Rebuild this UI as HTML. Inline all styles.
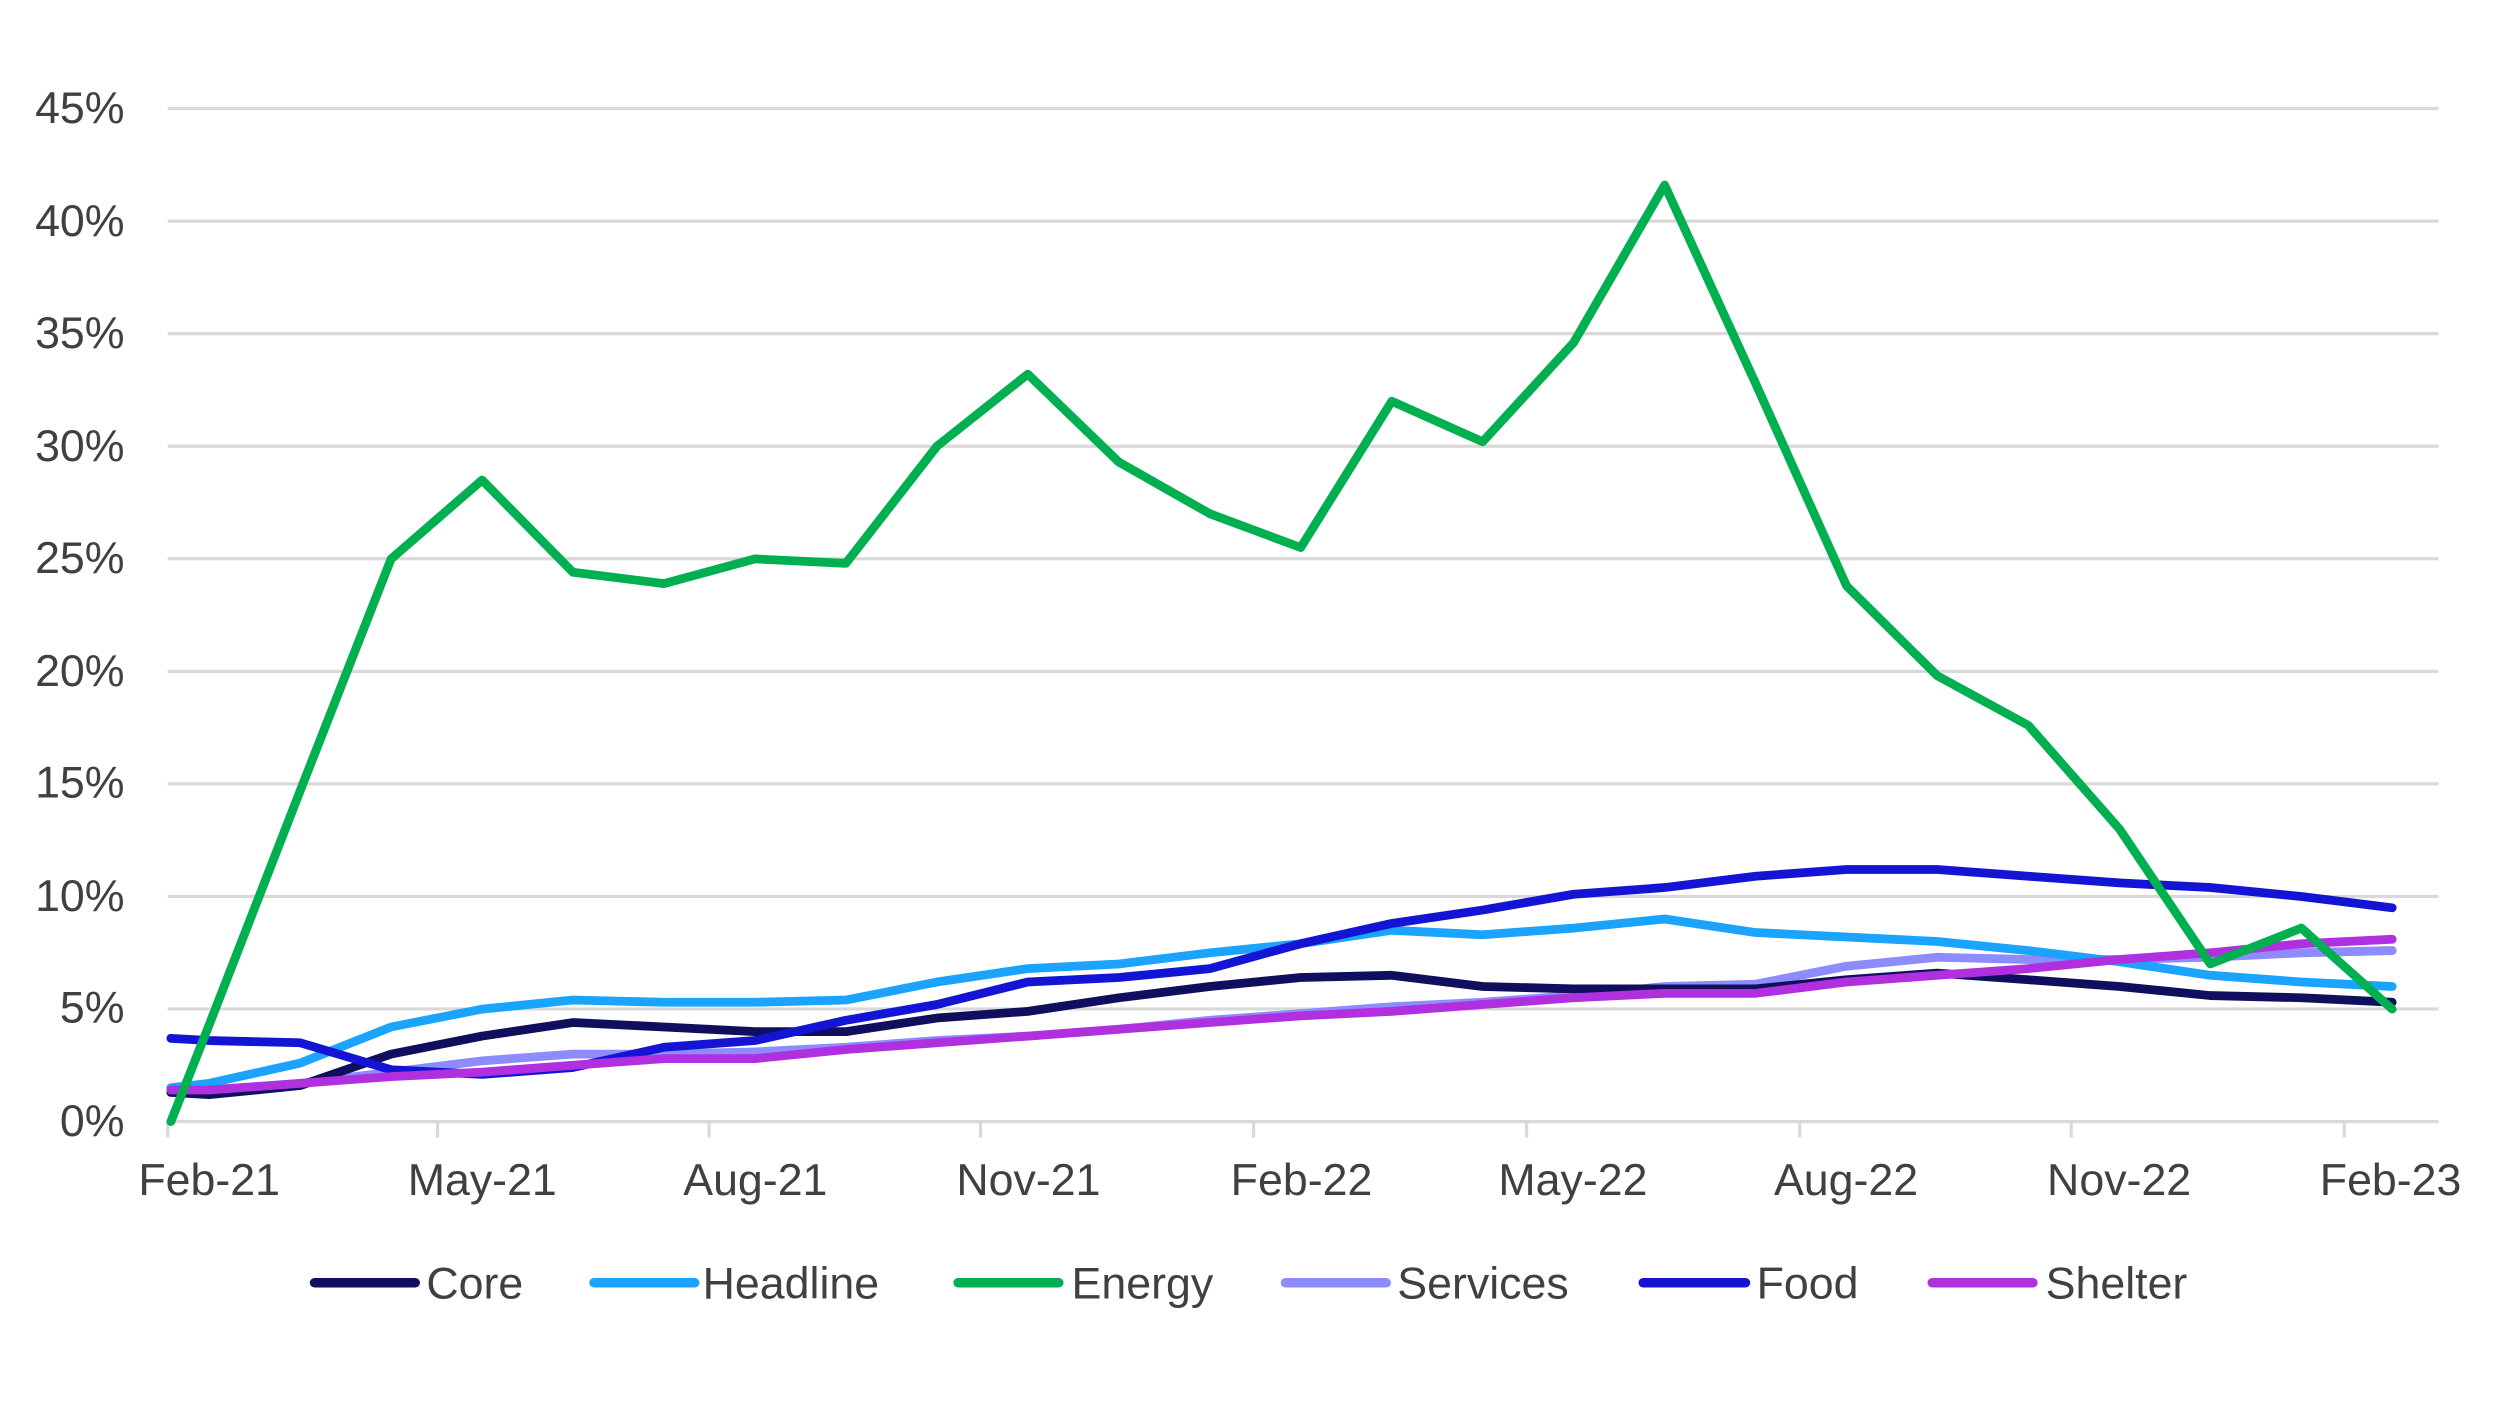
<!DOCTYPE html>
<html><head><meta charset="utf-8"><style>
html,body{margin:0;padding:0;background:#fff;}
svg{display:block;}
text{font-family:"Liberation Sans",sans-serif;fill:#404040;}
</style></head><body>
<svg width="2496" height="1404" viewBox="0 0 1563 880" preserveAspectRatio="none" xmlns="http://www.w3.org/2000/svg">
<g stroke="#d9d9d9" stroke-width="2">
<line x1="105" y1="68" x2="1527" y2="68"/>
<line x1="105" y1="138.6" x2="1527" y2="138.6"/>
<line x1="105" y1="209.1" x2="1527" y2="209.1"/>
<line x1="105" y1="279.7" x2="1527" y2="279.7"/>
<line x1="105" y1="350.2" x2="1527" y2="350.2"/>
<line x1="105" y1="420.8" x2="1527" y2="420.8"/>
<line x1="105" y1="491.3" x2="1527" y2="491.3"/>
<line x1="105" y1="561.9" x2="1527" y2="561.9"/>
<line x1="105" y1="632.4" x2="1527" y2="632.4"/>
<line x1="105" y1="703" x2="1527" y2="703"/>
<line x1="105" y1="703" x2="105" y2="713"/>
<line x1="274" y1="703" x2="274" y2="713"/>
<line x1="444" y1="703" x2="444" y2="713"/>
<line x1="614" y1="703" x2="614" y2="713"/>
<line x1="785" y1="703" x2="785" y2="713"/>
<line x1="956" y1="703" x2="956" y2="713"/>
<line x1="1127" y1="703" x2="1127" y2="713"/>
<line x1="1297" y1="703" x2="1297" y2="713"/>
<line x1="1468" y1="703" x2="1468" y2="713"/>
</g>
<g font-size="28" text-anchor="end">
<text x="78" y="77">45%</text>
<text x="78" y="148">40%</text>
<text x="78" y="218">35%</text>
<text x="78" y="289">30%</text>
<text x="78" y="359">25%</text>
<text x="78" y="430">20%</text>
<text x="78" y="500">15%</text>
<text x="78" y="571">10%</text>
<text x="78" y="641">5%</text>
<text x="78" y="712">0%</text>
</g>
<g font-size="28" text-anchor="middle">
<text x="131" y="749">Feb-21</text>
<text x="302" y="749">May-21</text>
<text x="473" y="749">Aug-21</text>
<text x="644" y="749">Nov-21</text>
<text x="815" y="749">Feb-22</text>
<text x="985" y="749">May-22</text>
<text x="1156" y="749">Aug-22</text>
<text x="1327" y="749">Nov-22</text>
<text x="1497" y="749">Feb-23</text>
</g>
<g id="series" fill="none" stroke-width="5.5" stroke-linejoin="round" stroke-linecap="round"></g>
<g stroke-width="6" stroke-linecap="round">
<line x1="197" y1="804" x2="260" y2="804" stroke="#0f0f5e"/>
<line x1="372" y1="804" x2="435" y2="804" stroke="#1aa3ff"/>
<line x1="600" y1="804" x2="663" y2="804" stroke="#00b050"/>
<line x1="805" y1="804" x2="868" y2="804" stroke="#8c8cff"/>
<line x1="1029" y1="804" x2="1093" y2="804" stroke="#1414d4"/>
<line x1="1210" y1="804" x2="1273" y2="804" stroke="#b030e0"/>
</g>
<g font-size="28">
<text x="267" y="814">Core</text>
<text x="440" y="814">Headline</text>
<text x="671" y="814">Energy</text>
<text x="875" y="814">Services</text>
<text x="1100" y="814">Food</text>
<text x="1281" y="814">Shelter</text>
</g>
</svg>
<script>
var xs=[107];for(var k=0;k<25;k++)xs.push(131+56.96*k);
var S=[
["#8c8cff",[1.3,1.4,1.7,2.2,2.7,3.0,3.0,3.1,3.3,3.6,3.8,4.1,4.5,4.8,5.1,5.3,5.6,6.0,6.1,6.9,7.3,7.2,7.2,7.3,7.5,7.6]],
["#1aa3ff",[1.5,1.7,2.6,4.2,5.0,5.4,5.3,5.3,5.4,6.2,6.8,7.0,7.5,7.9,8.5,8.3,8.6,9.0,8.4,8.2,8.0,7.6,7.1,6.5,6.2,6.0]],
["#0f0f5e",[1.3,1.2,1.6,3.0,3.8,4.4,4.2,4.0,4.0,4.6,4.9,5.5,6.0,6.4,6.5,6.0,5.9,5.9,5.9,6.3,6.6,6.3,6.0,5.6,5.5,5.3]],
["#1414d4",[3.7,3.6,3.5,2.3,2.1,2.4,3.3,3.6,4.5,5.2,6.2,6.4,6.8,7.9,8.8,9.4,10.1,10.4,10.9,11.2,11.2,10.9,10.6,10.4,10.0,9.5]],
["#b030e0",[1.4,1.4,1.7,2.0,2.2,2.5,2.8,2.8,3.2,3.5,3.8,4.1,4.4,4.7,4.9,5.2,5.5,5.7,5.7,6.2,6.5,6.8,7.2,7.5,7.9,8.1]],
["#00b050",[0,4.3,14.7,25,28.5,24.4,23.9,25,24.8,30,33.2,29.3,27,25.5,32,30.2,34.6,41.6,32.8,23.8,19.8,17.6,13,7,8.6,5]]
];
var g=document.getElementById("series");
S.forEach(function(s){var p=s[1].map(function(v,i){return xs[i].toFixed(1)+","+(703-v*14.11).toFixed(1)}).join(" ");
var e=document.createElementNS("http://www.w3.org/2000/svg","polyline");e.setAttribute("points",p);e.setAttribute("stroke",s[0]);g.appendChild(e);});
</script>
</body></html>
